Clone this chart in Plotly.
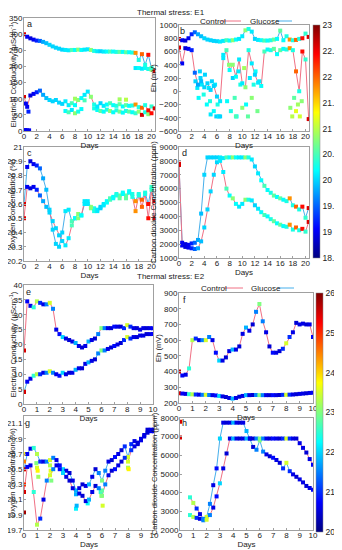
import plotly.graph_objects as go

# the page body keeps the browser's default 8 px margin, so the figure is sized to fit
OX, OY = 8, 8
W, H = 342 - OX, 550 - OY


def px(p):
    return (p - OX) / W


def py(p):
    return 1 - (p - OY) / H


# ---------------- DATA: Thermal stress E1 (days 0..20.5) ----------------
days_e1 = [0, 0.5, 1, 1.5, 2, 2.5, 3, 3.5, 4, 4.5, 5, 5.5, 6, 6.5, 7, 7.5, 8, 8.5, 9, 9.5, 10,
           10.5, 11, 11.5, 12, 12.5, 13, 13.5, 14, 14.5, 15, 15.5, 16, 16.5, 17, 17.5, 18, 18.5,
           19, 19.5, 20, 20.5]
temp_e1 = [22.6, 19.0, 18.9, 19.0, 19.2, 19.5, 19.8, 19.9, 20.0, 20.0, 20.0, 20.0, 20.0, 20.1,
           20.1, 20.5, 20.2, 20.8, 20.2, 20.1, 20.1, 20.8, 20.3, 20.1, 20.0, 20.1, 20.2, 20.5,
           20.2, 20.3, 20.6, 20.2, 20.6, 20.2, 20.3, 21.8, 20.3, 22.0, 20.3, 22.4, 20.4, 22.6]

a_control = [105, 75, 110, 115, 120, 125, 112, 102, 96, 92, 96, 88, 84, 92, 80, 86, 80, 96, 102,
             112, 122, 106, 82, 76, 86, 78, 82, 86, 80, 78, 83, 76, 80, 78, 79, 82, 74, 72, 80,
             64, 76, 70]
a_glucose = [300, 292, 287, 283, 280, 279, 276, 272, 267, 262, 258, 255, 252, 251, 250, 251, 251,
             252, 251, 252, 253, 251, 248, 247, 247, 246, 246, 246, 246, 245, 245, 245, 244, 244,
             243, 242, 220, 238, 205, 236, 195, 185]
a_extra_x = [6.5, 7, 7.5, 8, 8.5, 9, 11, 11.5, 12, 12.5, 13, 13.5, 14, 14.5, 15, 15.5, 16, 16.5,
             17, 17.5, 18, 18.5, 19, 19.5, 20, 17.5, 18, 18.5, 19, 19.5, 20, 8, 9.5, 15, 16,
             0.3, 0.7, 0.2, 0.5, 0.8]
a_extra_y = [62, 58, 65, 55, 60, 68, 70, 65, 62, 60, 66, 62, 58, 64, 60, 57, 62, 60, 58, 55, 60,
             50, 58, 52, 55, 195, 195, 193, 195, 192, 190, 100, 95, 98, 97, 85, 60, 3, 2, 2]
a_extra_t = [20.2, 20.5, 20.1, 20.8, 20.3, 20.2, 20.3, 20.2, 20.6, 20.2, 20.3, 20.8, 20.2, 20.3,
             20.7, 20.2, 20.3, 20.6, 20.2, 20.4, 20.8, 22.6, 20.3, 20.8, 22.4, 20.1, 20.2, 20.1,
             20.2, 20.3, 20.8, 20.9, 20.5, 20.9, 21.0, 19.0, 19.2, 19.0, 19.0, 19.0]

b_control = [660, 420, 650, 640, 620, 280, 100, 150, 60, 120, 20, 80, -80, -150, 500, 620, 320,
             400, 220, 480, 120, 60, 620, 420, 250, 130, 80, 600, 630, 620, 640, 560, 620, 640,
             630, 650, 620, 300, 0, 600, 480, -420]
b_glucose = [790, 770, 765, 800, 860, 890, 860, 830, 800, 780, 770, 760, 755, 750, 760, 770, 765,
             770, 780, 790, 830, 920, 940, 900, 790, 775, 770, 765, 765, 770, 780, 790, 915, 770,
             830, 780, 770, 775, 790, 800, 870, 820]
b_extra_x = [2.6, 2.9, 3.1, 3.4, 3.6, 3.9, 4.1, 4.4, 4.7, 4.9, 5.2, 5.5, 5.7, 5.9, 6.1, 6.3, 6.5,
             7.6, 7.9, 8.2, 8.5, 8.8, 9.1, 9.4, 9.7, 10.0, 10.3, 10.6, 10.9, 11.2, 11.5, 11.8,
             12.1, 12.4, 12.7, 17.6, 17.9, 18.2, 18.5, 18.8, 19.1, 19.4, 9.0, 5.0, 3.3, 7.0]
b_extra_y = [150, 50, -100, 200, 100, -50, 250, -200, 50, -150, 150, -300, 100, -380, -200, -380,
             -380, -150, 400, -300, 200, -100, -380, 300, 100, -250, 350, -200, -380, 200, -100,
             100, 300, -300, 150, -250, -380, -100, -300, -200, -380, -150, -380, -350, 300, 550]
b_extra_t = [20.0, 20.1, 20.2, 20.0, 20.1, 20.3, 20.0, 20.2, 20.1, 20.3, 20.0, 20.2, 20.1, 20.0,
             20.3, 20.1, 20.0, 20.2, 20.8, 20.3, 20.0, 20.5, 20.2, 20.1, 20.3, 20.8, 20.9, 20.2,
             20.6, 20.1, 20.8, 20.3, 20.2, 20.7, 20.1, 20.8, 21.0, 20.6, 21.2, 20.9, 21.1, 20.8,
             20.5, 20.1, 20.0, 20.1]

c_control = [20.5, 20.72, 20.71, 20.72, 20.7, 20.66, 20.62, 20.58, 20.54, 20.48, 20.43, 20.38,
             20.34, 20.31, 20.36, 20.45, 20.5, 20.5, 20.52, 20.62, 20.6, 20.57, 20.55, 20.55,
             20.57, 20.59, 20.61, 20.63, 20.64, 20.66, 20.64, 20.67, 20.64, 20.68, 20.65, 20.55,
             20.66, 20.58, 20.67, 20.5, 20.7, 20.5]
c_glucose = [20.6, 20.86, 20.9, 20.88, 20.87, 20.85, 20.78, 20.7, 20.56, 20.42, 20.32, 20.3, 20.4,
             20.55, 20.56, 20.48, 20.5, 20.53, 20.52, 20.6, 20.62, 20.58, 20.57, 20.56, 20.58,
             20.6, 20.62, 20.64, 20.65, 20.67, 20.66, 20.68, 20.66, 20.69, 20.67, 20.62, 20.67,
             20.63, 20.68, 20.6, 20.72, 20.62]

d_control = [7800, 1900, 1800, 1750, 1700, 1650, 1700, 2200, 3200, 4500, 5800, 7000, 7900, 8000,
             7200, 6000, 5500, 5300, 4900, 4700, 4900, 5200, 5200, 5150, 4800, 4550, 4300, 4100,
             4000, 3800, 3650, 3500, 3400, 3300, 3250, 3400, 3050, 3200, 3000, 3100, 2900, 3600]
d_glucose = [7700, 2100, 2000, 1950, 2050, 2100, 2300, 4200, 7000, 8250, 8250, 8250, 8250, 8250,
             8200, 8250, 8250, 8250, 8250, 8250, 8250, 8250, 8250, 8100, 7600, 7100, 6600, 6200,
             5900, 5700, 5500, 5400, 5300, 5200, 5100, 5300, 4800, 4700, 4500, 4700, 3900, 4600]

# ---------------- DATA: Thermal stress E2 (days 0..10) ----------------
days_e2 = [0, 0.25, 0.5, 0.75, 1, 1.25, 1.5, 1.75, 2, 2.25, 2.5, 2.75, 3, 3.25, 3.5, 3.75, 4,
           4.25, 4.5, 4.75, 5, 5.25, 5.5, 5.75, 6, 6.25, 6.5, 6.75, 7, 7.25, 7.5, 7.75, 8, 8.25,
           8.5, 8.75, 9, 9.25, 9.5, 9.75, 10]
temp_e2 = [25.5, 20.7, 20.6, 22.5, 23.3, 21.0, 20.6, 21.5, 23.5, 21.5, 20.6, 20.8, 22.0, 20.6,
           20.5, 20.6, 21.8, 20.6, 20.5, 20.6, 21.8, 20.6, 20.5, 21.5, 23.0, 21.5, 20.6, 20.5,
           20.8, 20.6, 20.5, 21.0, 23.5, 21.0, 20.6, 20.5, 20.6, 20.6, 20.5, 20.6, 20.7]

e_control = [18, 34.5, 33, 32.5, 34.5, 34, 33.5, 33.5, 34, 32, 25, 23.5, 22.5, 22, 21.5, 21, 20.5,
             19.5, 19, 19.5, 21, 21.5, 22, 23.5, 25.5, 25.5, 25.5, 25.5, 26, 26, 26, 25.5, 26.5,
             26, 25.5, 25.5, 25, 25.5, 25.5, 25.5, 25.5]
e_glucose = [4, 7.5, 8.5, 9.5, 10, 10, 10.5, 10.5, 11, 10.5, 10, 9.5, 10.5, 10, 10.5, 10.5, 11.5,
             12, 12, 13.5, 14, 14.5, 15, 17, 18, 18, 18.5, 19, 19.5, 20, 20.5, 21.5, 22.5, 22,
             22.5, 22.5, 23, 23, 23.5, 23.5, 23.5]

f_control = [400, 375, 380, 420, 600, 610, 600, 600, 600, 620, 600, 520, 470, 470, 490, 530, 540,
             540, 560, 640, 680, 660, 700, 780, 830, 720, 650, 560, 520, 520, 530, 545, 580, 620,
             650, 710, 700, 705, 700, 700, 620]
f_glucose = [262, 260, 258, 256, 255, 254, 253, 252, 252, 251, 250, 248, 245, 242, 238, 232, 228,
             232, 240, 245, 250, 250, 251, 251, 250, 250, 250, 250, 250, 250, 251, 252, 252, 253,
             254, 256, 258, 260, 262, 264, 266]

g_control = [20.2, 20.53, 20.55, 20.2, 19.77, 19.85, 20.1, 20.35, 20.42, 20.5, 20.55, 20.5, 20.45,
             20.4, 20.35, 20.25, 20.17, 20.18, 20.15, 20.08, 20.1, 20.2, 20.28, 20.25, 20.15,
             20.3, 20.42, 20.48, 20.5, 20.55, 20.6, 20.65, 20.6, 20.75, 20.8, 20.83, 20.88, 20.93,
             20.98, 21.0, 21.0]
g_glucose = [20.5, 20.7, 20.77, 20.78, 20.7, 20.6, 20.6, 20.6, 20.62, 20.65, 20.62, 20.55, 20.5,
             20.48, 20.45, 20.35, 20.22, 20.25, 20.3, 20.28, 20.3, 20.4, 20.5, 20.45, 20.35, 20.48,
             20.6, 20.62, 20.66, 20.7, 20.75, 20.8, 20.66, 20.83, 20.87, 20.85, 20.9, 20.95, 21.02,
             21.02, 21.02]
g_extra_x = [0, 0, 0, 0, 0, 1, 1.05, 1.1, 2, 2.05, 2.1, 3, 4, 4.05, 4.9, 5.9, 5.95, 6, 6.05, 8,
             8.05, 0.95]
g_extra_y = [20.7, 20.6, 20.5, 20.3, 19.93, 20.52, 20.48, 20.4, 20.55, 20.48, 20.35, 20.45, 19.98,
             20.02, 20.05, 20.2, 20.15, 20.22, 20.02, 20.52, 20.5, 20.58]
g_extra_t = [23.8, 24.5, 24.2, 25.0, 25.8, 23.5, 23.8, 23.2, 23.3, 23.6, 23.0, 22.0, 22.2, 21.8,
             22.3, 22.5, 23.2, 22.8, 23.5, 23.3, 23.8, 23.0]

h_control = [6950, None, None, 3750, 3450, 3150, 2850, 2600, 2550, 2800, 3200, 3800, 4500, 5300,
             6100, 6900, 6900, 6900, 6900, 6900, 6900, 6900, 6900, 6900, 6900, 6900, 6900, 6900,
             6900, 6900, 6900, 6900, 6900, 6900, 6900, 6900, 6650, 6400, 6150, 5800, 5500]
h_glucose = [7800, None, None, 2800, 2700, 2650, 2600, 2520, 2700, 3400, 4400, 5300, 6900, 7750,
             7750, 7750, 7750, 7750, 7750, 7750, 7300, 6900, 6450, 6300, 6800, 6200, 6050, 5950,
             5870, 5750, 5600, 5300, 5600, 5150, 4980, 4850, 4710, 4550, 4360, 4250, 4150]

# ---------------- STYLE ----------------
FONT = "Liberation Sans"
CTRL = "rgb(240,112,132)"
GLUC = "rgb(70,175,235)"
AXC = "#a0a0a0"
jet = [[0, "rgb(0,0,128)"], [0.125, "rgb(0,0,255)"], [0.375, "rgb(0,255,255)"],
       [0.625, "rgb(255,255,0)"], [0.875, "rgb(255,0,0)"], [1, "rgb(128,0,0)"]]

ec_title = "Electrical Conductivity (μScm<sup>-1</sup>)"
eh_title = "Eh (mV)"
o2_title = "Oxygen Concentration (%)"
co2_title = "Carbon dioxide Concentration (ppm)"

# panel: (letter, idx, xpx, ypx, xrange, xdtick, yrange, ydtick, ytitle, coloraxis, letterpos)
panels = [
    ("a", 1, (24, 155), (18, 131), [0, 20.55], 2, [0, 350], 50, ec_title, "coloraxis", (29, 24)),
    ("b", 2, (179, 309), (25, 131), [0, 20.55], 2, [-600, 1000], 200, eh_title, "coloraxis", (182, 31)),
    ("c", 3, (24, 155), (147, 261), [0, 20.55], 2, [20.2, 21], 0.1, o2_title, "coloraxis", (29, 153)),
    ("d", 4, (179, 309), (147, 258), [0, 20.55], 2, [1000, 9000], 1000, co2_title, "coloraxis", (184, 153)),
    ("e", 5, (24, 153), (285, 404), [0, 10], 1, [0, 40], 5, ec_title, "coloraxis2", (28, 292)),
    ("f", 6, (179, 313), (293, 403), [0, 10], 1, [200, 900], 100, eh_title, "coloraxis2", (184, 300)),
    ("g", 7, (24, 154), (416, 530), [0, 10], 1, [19.7, 21.2], 0.2, o2_title, "coloraxis2", (27, 423)),
    ("h", 8, (180, 313), (418, 530), [0, 10], 1, [2000, 8000], 1000, co2_title, "coloraxis2", (184, 423)),
]

series = {
    "a": (days_e1, temp_e1, a_control, a_glucose, (a_extra_x, a_extra_y, a_extra_t)),
    "b": (days_e1, temp_e1, b_control, b_glucose, (b_extra_x, b_extra_y, b_extra_t)),
    "c": (days_e1, temp_e1, c_control, c_glucose, None),
    "d": (days_e1, temp_e1, d_control, d_glucose, None),
    "e": (days_e2, temp_e2, e_control, e_glucose, None),
    "f": (days_e2, temp_e2, f_control, f_glucose, None),
    "g": (days_e2, temp_e2, g_control, g_glucose, (g_extra_x, g_extra_y, g_extra_t)),
    "h": (days_e2, temp_e2, h_control, h_glucose, None),
}

fig = go.Figure()
layout = dict(width=W, height=H, margin=dict(l=0, r=0, t=0, b=0), autosize=False,
              paper_bgcolor="white", plot_bgcolor="white", showlegend=False,
              font=dict(family=FONT, size=8, color="#222"))
annotations = []
shapes = []
MS = 4

for (L, i, xp, yp, xr, xdt, yr, ydt, ytitle, cax, lpos) in panels:
    sfx = "" if i == 1 else str(i)
    xref, yref = "x" + sfx, "y" + sfx
    days, temp, ctrl, gluc, extra = series[L]
    mk = dict(size=MS, symbol="square", color=temp, coloraxis=cax, line=dict(width=0))
    fig.add_trace(go.Scatter(x=days, y=gluc, mode="lines", xaxis=xref, yaxis=yref,
                             line=dict(color=GLUC, width=1)))
    fig.add_trace(go.Scatter(x=days, y=ctrl, mode="lines", xaxis=xref, yaxis=yref,
                             line=dict(color=CTRL, width=1)))
    if extra is not None:
        fig.add_trace(go.Scatter(x=extra[0], y=extra[1], mode="markers", xaxis=xref, yaxis=yref,
                                 marker=dict(size=MS, symbol="square", color=extra[2],
                                             coloraxis=cax, line=dict(width=0))))
    fig.add_trace(go.Scatter(x=days, y=gluc, mode="markers", xaxis=xref, yaxis=yref, marker=mk))
    fig.add_trace(go.Scatter(x=days, y=ctrl, mode="markers", xaxis=xref, yaxis=yref, marker=mk))
    common = dict(showline=True, mirror=True, linecolor=AXC, linewidth=1, ticks="inside",
                  ticklen=2, tickcolor=AXC, showgrid=False, zeroline=False, automargin=False,
                  tickfont=dict(size=8, family=FONT, color="#222"))
    layout["xaxis" + sfx] = dict(domain=[px(xp[0]), px(xp[1])], range=xr, dtick=xdt, tick0=0,
                                 anchor=yref, ticklabelstandoff=-3,
                                 title=dict(text="Days", standoff=0,
                                            font=dict(size=8, family=FONT)),
                                 **common)
    layout["yaxis" + sfx] = dict(domain=[py(yp[1]), py(yp[0])], range=yr, dtick=ydt,
                                 tick0=yr[0], anchor=xref, ticklabelstandoff=-1,
                                 title=dict(text=ytitle, standoff=1,
                                            font=dict(size=7.6, family=FONT)),
                                 **common)
    annotations.append(dict(text=L, x=px(lpos[0]), y=py(lpos[1]), xref="paper", yref="paper",
                            showarrow=False, font=dict(size=9, family=FONT, color="#222"),
                            xanchor="center", yanchor="middle"))

# titles
for txt, yy in (("Thermal stress: E1", 12.5), ("Thermal stress: E2", 276)):
    annotations.append(dict(text=txt, x=px(171), y=py(yy), xref="paper", yref="paper",
                            showarrow=False, font=dict(size=8, family=FONT, color="#222"),
                            xanchor="center", yanchor="middle"))

# legends (text + line sample)
for yy, (cx, c0, c1, gx, g0, g1) in ((21, (198, 221, 241, 248, 276, 292)),
                                     (288, (199, 224, 243, 249, 278, 294))):
    annotations.append(dict(text="Control", x=px(cx), y=py(yy), xref="paper", yref="paper",
                            showarrow=False, xanchor="left", yanchor="middle",
                            font=dict(size=8, family=FONT, color="#222")))
    annotations.append(dict(text="Glucose", x=px(gx), y=py(yy), xref="paper", yref="paper",
                            showarrow=False, xanchor="left", yanchor="middle",
                            font=dict(size=8, family=FONT, color="#222")))
    shapes.append(dict(type="line", xref="paper", yref="paper", x0=px(c0), x1=px(c1),
                       y0=py(yy), y1=py(yy), line=dict(color=CTRL, width=1)))
    shapes.append(dict(type="line", xref="paper", yref="paper", x0=px(g0), x1=px(g1),
                       y0=py(yy), y1=py(yy), line=dict(color=GLUC, width=1)))

layout["annotations"] = annotations
layout["shapes"] = shapes
cb_common = dict(xanchor="left", yanchor="top", lenmode="pixels", thickness=7,
                 thicknessmode="pixels", ticks="", outlinewidth=0.5, outlinecolor="#888",
                 xpad=0, ypad=0, tickfont=dict(size=8.5, family=FONT, color="#222"))
layout["coloraxis"] = dict(colorscale=jet, cmin=18.5, cmax=23,
                           colorbar=dict(x=px(313), y=py(25), len=233, tick0=18.5, dtick=0.5,
                                         **cb_common))
layout["coloraxis2"] = dict(colorscale=jet, cmin=20, cmax=26,
                            colorbar=dict(x=px(316), y=py(293), len=239, tick0=20, dtick=1,
                                          **cb_common))
fig.update_layout(**layout)
fig.write_html("out.html")
